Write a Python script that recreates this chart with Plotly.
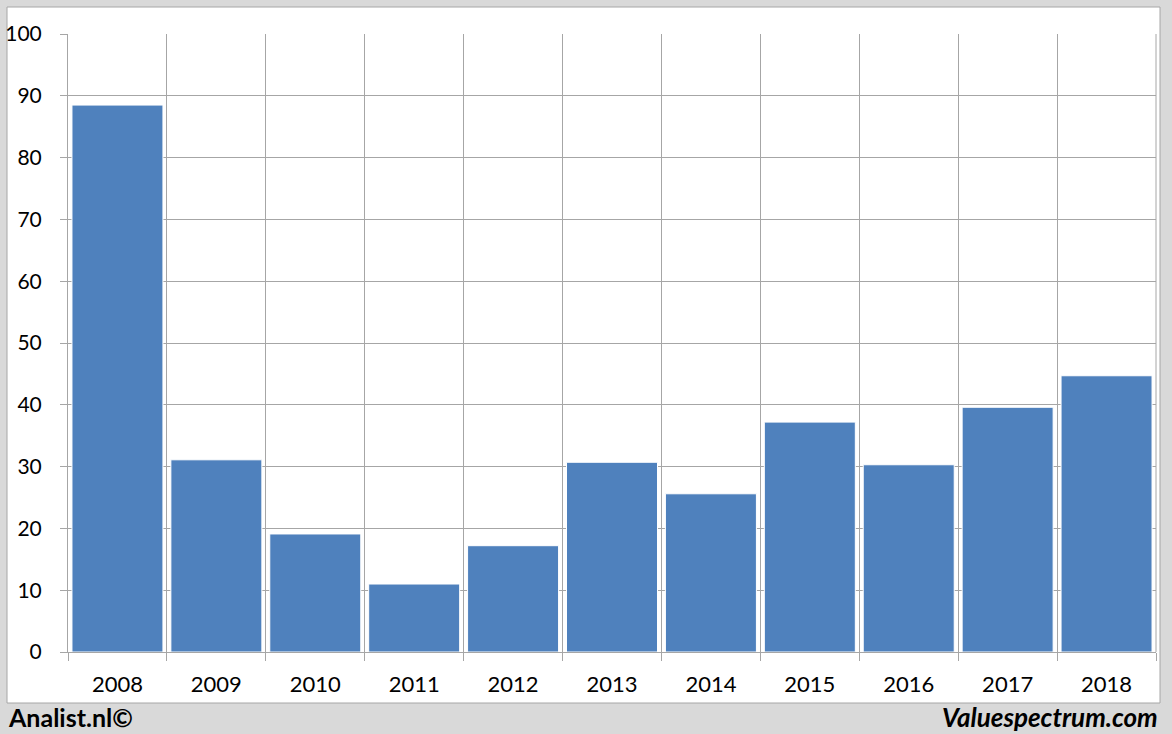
import plotly.graph_objects as go

years = ["2008", "2009", "2010", "2011", "2012", "2013", "2014", "2015", "2016", "2017", "2018"]
values = [88.5, 31.1, 19.1, 11.0, 17.2, 30.7, 25.6, 37.2, 30.3, 39.6, 44.7]
y_ticks = [0, 10, 20, 30, 40, 50, 60, 70, 80, 90, 100]

W, H = 1172, 734
L, R, T, B = 68, 16, 34, 82
pw, ph = W - L - R, H - T - B

def px_x(p):
    return (p - L) / pw

def px_y(p):
    return (H - B - p) / ph

fig = go.Figure()
fig.add_trace(go.Bar(
    x=years, y=values,
    marker=dict(color="#4f81bd", line=dict(color="#ffffff", width=1)),
    hoverinfo="x+y",
))

fig.update_layout(
    width=W, height=H,
    margin=dict(l=L, r=R, t=T, b=B, pad=0, autoexpand=False),
    paper_bgcolor="#d9d9d9",
    plot_bgcolor="#ffffff",
    bargap=0.08,
    showlegend=False,
    font=dict(family="Lato", size=21, color="#000000"),
    xaxis=dict(
        type="category",
        tickson="boundaries",
        showgrid=True, gridcolor="#a6a6a6", gridwidth=1,
        ticks="outside", ticklen=8, tickcolor="#a6a6a6",
        showline=True, linecolor="#a6a6a6", linewidth=1,
        mirror=False,
        tickfont=dict(family="Lato", size=22),
        ticklabelstandoff=13,
        automargin=False,
        fixedrange=True,
    ),
    yaxis=dict(
        range=[0, 100],
        tickvals=y_ticks,
        showgrid=True, gridcolor="#a6a6a6", gridwidth=1,
        ticks="outside", ticklen=7, tickcolor="#a6a6a6",
        showline=True, linecolor="#a6a6a6", linewidth=1,
        zeroline=False,
        tickfont=dict(family="Lato", size=21),
        ticklabelstandoff=14,
        automargin=False,
        fixedrange=True,
    ),
    shapes=[
        dict(type="rect", xref="paper", yref="paper",
             x0=px_x(7), x1=px_x(1160), y0=px_y(703), y1=px_y(7),
             fillcolor="#ffffff", line=dict(color="#a6a6a6", width=1),
             layer="below"),
        dict(type="line", xref="paper", yref="paper",
             x0=px_x(1156), x1=px_x(1156), y0=0, y1=1,
             line=dict(color="#a6a6a6", width=1), layer="below"),
    ],
    annotations=[
        dict(text="<b>Analist.nl©</b>", xref="paper", yref="paper",
             x=px_x(6), y=px_y(717), xanchor="left", yanchor="middle",
             showarrow=False, font=dict(family="Lato", size=25, color="#000000")),
        dict(text="<b><i>Valuespectrum.com</i></b>", xref="paper", yref="paper",
             x=px_x(1160), y=px_y(717), xanchor="right", yanchor="middle",
             showarrow=False, font=dict(family="Lato", size=26, color="#000000")),
    ],
)

fig.write_html("out.html", config={"displayModeBar": False},
               post_script="document.body.style.margin='0';document.body.style.overflow='hidden';")
